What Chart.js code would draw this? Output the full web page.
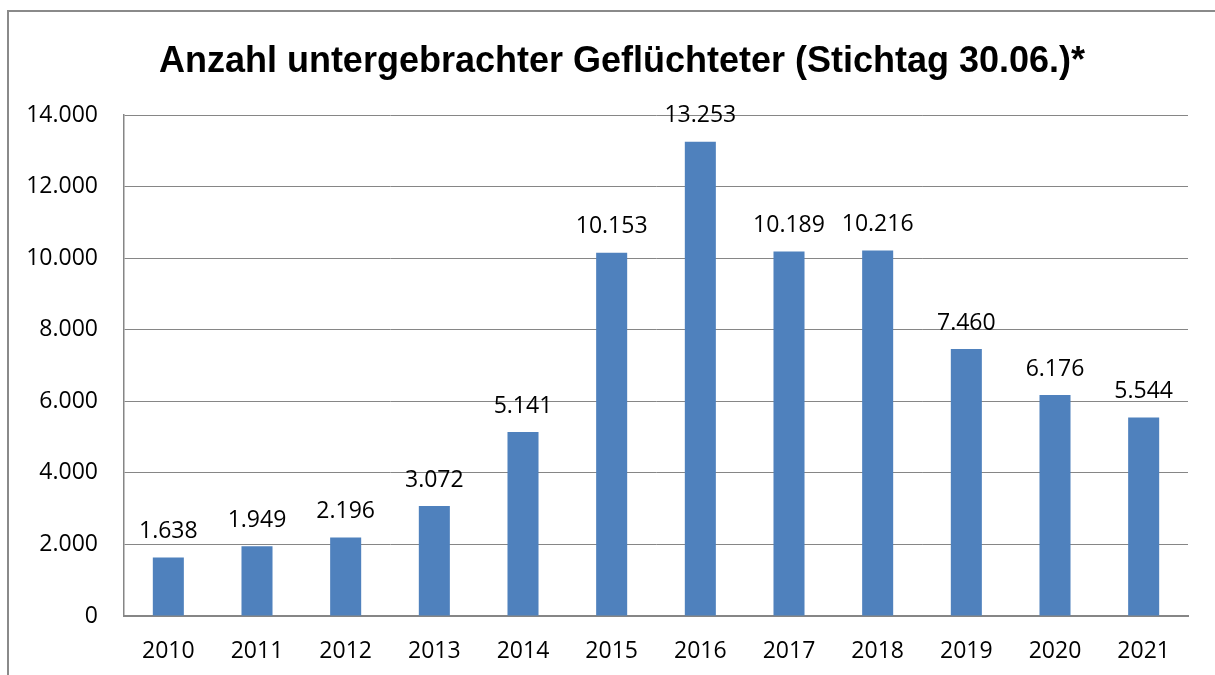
<!DOCTYPE html>
<html>
<head>
<meta charset="utf-8">
<script src="https://cdn.jsdelivr.net/npm/chart.js@4.4.0/dist/chart.umd.min.js"></script>
<style>
  html, body { margin: 0; padding: 0; background: #fff; overflow: hidden; }
  #wrap { width: 1250px; height: 675px; }
</style>
</head>
<body>
<div id="wrap"><canvas id="c" width="1250" height="675"></canvas></div>
<script>
const titleText = 'Anzahl untergebrachter Geflüchteter (Stichtag 30.06.)*';
const categories = ['2010', '2011', '2012', '2013', '2014', '2015', '2016', '2017', '2018', '2019', '2020', '2021'];
const values = [1638, 1949, 2196, 3072, 5141, 10153, 13253, 10189, 10216, 7460, 6176, 5544];
const yTicks = [0, 2000, 4000, 6000, 8000, 10000, 12000, 14000];

const fmt = v => v.toLocaleString('de-DE');
const labelFont = { family: "'Open Sans', sans-serif", size: 23 };
const titleFont = "bold 36px 'Liberation Sans', Arial, sans-serif";
const gridColor = '#868686';

const framePlugin = {
  id: 'frame',
  beforeDraw(chart) {
    const ctx = chart.ctx;
    ctx.save();
    ctx.fillStyle = '#fff';
    ctx.fillRect(0, 0, chart.width, chart.height);
    ctx.strokeStyle = '#8a8a8a';
    ctx.lineWidth = 2;
    ctx.strokeRect(8, 11, chart.width + 50, chart.height + 50);
    ctx.fillStyle = '#000';
    ctx.font = titleFont;
    ctx.textAlign = 'center';
    ctx.textBaseline = 'middle';
    ctx.fillText(titleText, 622, 62);
    ctx.restore();
  }
};

const valueLabels = {
  id: 'valueLabels',
  afterDatasetsDraw(chart) {
    const ctx = chart.ctx;
    const meta = chart.getDatasetMeta(0);
    ctx.save();
    ctx.font = `${labelFont.size}px ${labelFont.family}`;
    ctx.fillStyle = '#000';
    ctx.textAlign = 'center';
    ctx.textBaseline = 'middle';
    meta.data.forEach((bar, i) => {
      ctx.fillText(fmt(values[i]), bar.x, bar.y - 26);
    });
    ctx.restore();
  }
};

new Chart(document.getElementById('c'), {
  type: 'bar',
  data: {
    labels: categories,
    datasets: [{
      data: values,
      backgroundColor: '#4f81bd',
      borderWidth: 0,
      barPercentage: 0.35,
      categoryPercentage: 1.0
    }]
  },
  options: {
    responsive: false,
    animation: false,
    layout: { padding: { left: 0, right: 62, top: 115, bottom: 0 } },
    plugins: {
      legend: { display: false },
      tooltip: { enabled: false },
      title: { display: false }
    },
    scales: {
      x: {
        grid: { display: false },
        border: { display: true, color: gridColor, width: 2 },
        ticks: { color: '#000', font: labelFont, padding: 14, maxRotation: 0 },
        afterFit(scale) { scale.height = 59; }
      },
      y: {
        min: 0,
        max: 14000,
        afterBuildTicks(scale) { scale.ticks = yTicks.map(v => ({ value: v })); },
        grid: { color: gridColor, lineWidth: 1, drawTicks: false },
        border: { display: true, color: gridColor, width: 1.5 },
        ticks: { color: '#000', font: labelFont, padding: 26, callback: v => fmt(v) },
        afterFit(scale) { scale.width = 124; }
      }
    }
  },
  plugins: [framePlugin, valueLabels]
});
</script>
</body>
</html>
